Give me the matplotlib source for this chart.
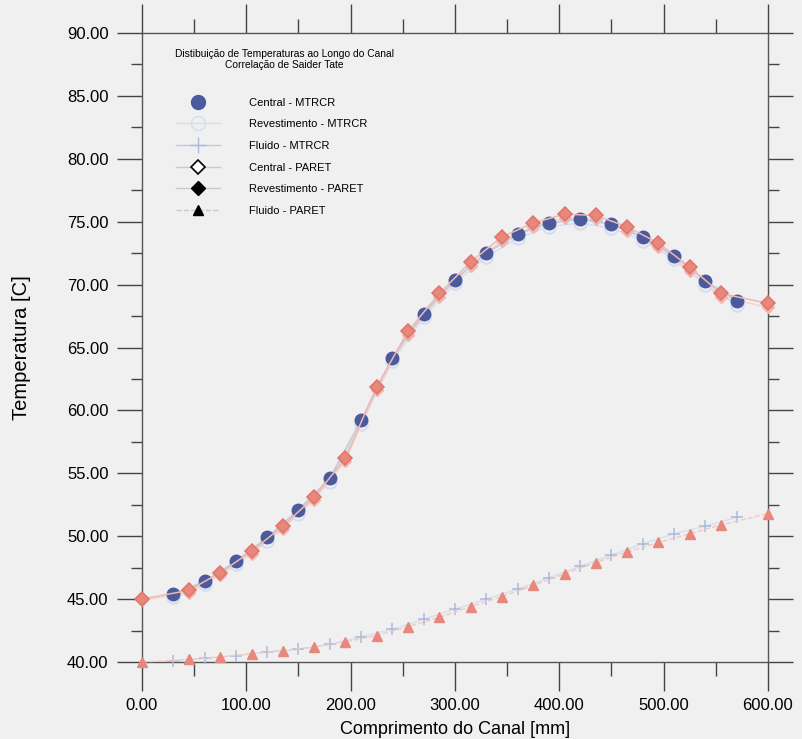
import numpy as np
import matplotlib
matplotlib.use("Agg")
import matplotlib.pyplot as plt
from matplotlib.lines import Line2D
from matplotlib.ticker import MultipleLocator, FormatStrFormatter

plt.rcParams['font.family'] = ['Liberation Sans', 'DejaVu Sans']

# MTRCR nodes
x_mtrcr = [30, 60, 90, 120, 150, 180, 210, 240, 270, 300,
           330, 360, 390, 420, 450, 480, 510, 540, 570]
central_mtrcr = [45.4, 46.4, 48.0, 49.9, 52.1, 54.6, 59.2, 64.2, 67.7, 70.4,
                 72.5, 74.0, 74.9, 75.2, 74.8, 73.8, 72.3, 70.3, 68.7]
revest_mtrcr = [45.2, 46.2, 47.8, 49.6, 51.8, 54.3, 58.9, 63.9, 67.4, 70.1,
                72.2, 73.7, 74.6, 74.9, 74.5, 73.5, 72.0, 70.0, 68.4]
fluido_mtrcr = [40.1, 40.3, 40.5, 40.8, 41.0, 41.4, 42.0, 42.6, 43.4, 44.2,
                45.0, 45.8, 46.7, 47.6, 48.5, 49.4, 50.2, 50.8, 51.5]

# PARET nodes
x_paret = [0, 45, 75, 105, 135, 165, 195, 225, 255, 285,
           315, 345, 375, 405, 435, 465, 495, 525, 555, 600]
central_paret = [45.0, 45.7, 47.1, 48.8, 50.8, 53.1, 56.2, 61.9, 66.3, 69.3,
                 71.8, 73.8, 74.9, 75.6, 75.5, 74.6, 73.3, 71.4, 69.3, 68.5]
revest_paret = [44.9, 45.5, 46.9, 48.6, 50.6, 52.9, 56.0, 61.6, 66.0, 69.0,
                71.5, 73.5, 74.6, 75.3, 75.2, 74.3, 73.0, 71.1, 69.0, 68.2]
fluido_paret = [40.0, 40.2, 40.4, 40.65, 40.9, 41.2, 41.6, 42.1, 42.8, 43.55,
                44.4, 45.2, 46.1, 47.0, 47.9, 48.75, 49.5, 50.2, 50.9, 51.8]

labels = ['Central - MTRCR', 'Revestimento - MTRCR', 'Fluido - MTRCR',
          'Central - PARET', 'Revestimento - PARET', 'Fluido - PARET']

bg = '#f0f0f0'
blue = '#4a5a9c'
lblue = '#d4def0'
salmon = '#e8877c'

fig = plt.figure(figsize=(8.02, 7.39), dpi=100, facecolor=bg)
ax = fig.add_axes([0.177, 0.1042, 0.7806, 0.8511], facecolor=bg)

# fluid curves
ax.plot(x_mtrcr, fluido_mtrcr, color=lblue, lw=1, marker='+', ms=9,
        mew=1.1, mec='#a9bbdc', clip_on=False, zorder=3)
ax.plot(x_paret, fluido_paret, color='#f2c8c2', lw=1, ls='--', marker='^',
        ms=6.5, mfc=salmon, mec=salmon, clip_on=False, zorder=4)

# cladding curves
ax.plot(x_mtrcr, revest_mtrcr, color=lblue, lw=1, marker='o', ms=9,
        mfc='none', mec=lblue, mew=1.5, clip_on=False, zorder=3)
ax.plot(x_paret, revest_paret, color='#f4d3ce', lw=1, marker='D', ms=6.5,
        mfc='#f2b6af', mec='#f2b6af', clip_on=False, zorder=4)

# centerline curves
ax.plot(x_mtrcr, central_mtrcr, color='#c2c7db', lw=1.1, marker='o', ms=9,
        mfc=blue, mec=blue, clip_on=False, zorder=5)
ax.plot(x_paret, central_paret, color='#efb9b2', lw=1.1, marker='D', ms=7.5,
        mfc=salmon, mec='#e27468', mew=1.1, clip_on=False, zorder=6)

ax.set_xlim(0, 600)
ax.set_ylim(40, 90)
ax.xaxis.set_major_locator(MultipleLocator(100))
ax.xaxis.set_minor_locator(MultipleLocator(50))
ax.yaxis.set_major_locator(MultipleLocator(5))
ax.yaxis.set_minor_locator(MultipleLocator(2.5))
ax.xaxis.set_major_formatter(FormatStrFormatter('%.2f'))
ax.yaxis.set_major_formatter(FormatStrFormatter('%.2f'))

ax.tick_params(which='both', direction='out', top=True, right=True,
               labeltop=False, labelright=False, color='#444444',
               labelsize=12, width=1)
ax.tick_params(which='major', length=18, pad=6)
ax.tick_params(which='minor', length=8)
ax.tick_params(axis='x', which='major', length=21, pad=5)
ax.tick_params(axis='x', which='minor', length=10)
for s in ax.spines.values():
    s.set_color('#555555')
    s.set_linewidth(1)

ax.set_xlabel('Comprimento do Canal [mm]', fontsize=13, labelpad=6)
ax.set_ylabel('Temperatura [C]', fontsize=14.5)
ax.yaxis.set_label_coords(-0.178, 0.5)

# legend handles
handles = [
    Line2D([], [], ls='none', marker='o', ms=10, mfc=blue, mec=blue),
    Line2D([], [], color=lblue, lw=1, marker='o', ms=10, mfc='none', mec=lblue),
    Line2D([], [], color='#bccae3', lw=1, marker='+', ms=12, mec='#a9bbdc'),
    Line2D([], [], color='#c9c9c9', lw=1, marker='D', ms=7, mfc='white',
           mec='black', mew=1.2),
    Line2D([], [], color='#c9c9c9', lw=1, marker='D', ms=7, mfc='black',
           mec='black'),
    Line2D([], [], color='#c9c9c9', lw=1, ls='--', marker='^', ms=7,
           mfc='black', mec='black'),
]
ax.legend(handles, labels, loc='upper left', bbox_to_anchor=(0.045, 0.906),
          frameon=False, fontsize=8, handlelength=4.0, handletextpad=2.6,
          labelspacing=1.05, borderpad=0)

ax.text(0.228, 0.975, 'Distibuição de Temperaturas ao Longo do Canal\n'
        'Correlação de Saider Tate', transform=ax.transAxes, ha='center',
        va='top', multialignment='center', fontsize=7.4)

fig.savefig('out.png', dpi=100, facecolor=bg)
